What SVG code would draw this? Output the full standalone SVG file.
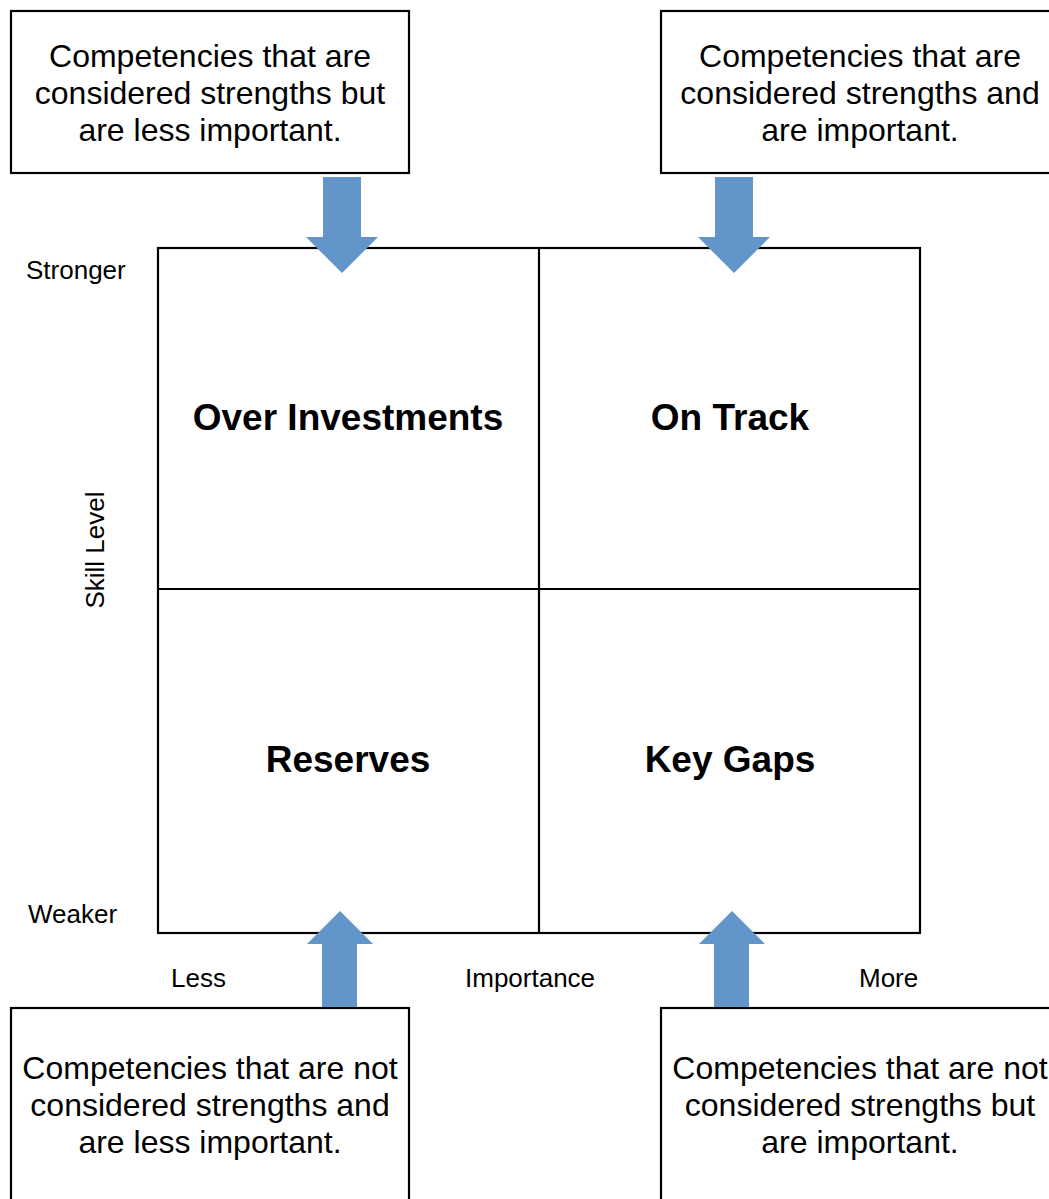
<svg xmlns="http://www.w3.org/2000/svg" width="1049" height="1199" viewBox="0 0 1049 1199">
  <defs>
    <style>
      .box { fill: #ffffff; stroke: #000000; stroke-width: 2.2; }
      .grid { fill: none; stroke: #000000; stroke-width: 2.2; }
      .note { font-family: "Liberation Sans", Arial, sans-serif; font-size: 32px; fill: #000000; text-anchor: middle; }
      .quad { font-family: "Liberation Sans", Arial, sans-serif; font-size: 37px; font-weight: bold; fill: #000000; text-anchor: middle; }
      .axis { font-family: "Liberation Sans", Arial, sans-serif; font-size: 26px; fill: #000000; }
      .arrow { fill: #6295c9; }
    </style>
    <!-- block arrows, drawn at the origin and placed with translate -->
    <path id="arrowDown" d="M323 177 H361 V237 H378 L342 273 L306 237 H323 Z"/>
    <path id="arrowUp" d="M340 911 L373 944 H357 V1007 H322 V944 H307 Z"/>
  </defs>

  <rect width="1049" height="1199" fill="#ffffff"/>

  <!-- 2x2 matrix -->
  <g id="matrix">
    <rect class="grid" x="158" y="248" width="762" height="685"/>
    <line class="grid" x1="539" y1="248" x2="539" y2="933"/>
    <line class="grid" x1="158" y1="589" x2="920" y2="589"/>
  </g>

  <g id="quadrant-over-investments">
    <text class="quad" x="348" y="430">Over Investments</text>
  </g>
  <g id="quadrant-on-track">
    <text class="quad" x="730" y="430">On Track</text>
  </g>
  <g id="quadrant-reserves">
    <text class="quad" x="348" y="772">Reserves</text>
  </g>
  <g id="quadrant-key-gaps">
    <text class="quad" x="730" y="772">Key Gaps</text>
  </g>

  <!-- axis labels -->
  <g id="axis-labels">
    <text class="axis" x="26" y="279">Stronger</text>
    <text class="axis" x="28" y="923">Weaker</text>
    <text class="axis" x="171" y="987">Less</text>
    <text class="axis" x="465" y="987">Importance</text>
    <text class="axis" x="859" y="987">More</text>
    <text class="axis" text-anchor="middle" transform="translate(104,550) rotate(-90)">Skill Level</text>
  </g>

  <!-- description boxes -->
  <g id="note-strong-less">
    <rect class="box" x="11" y="11" width="398" height="162"/>
    <text class="note" x="210" y="67">Competencies that are</text>
    <text class="note" x="210" y="104">considered strengths but</text>
    <text class="note" x="210" y="141">are less important.</text>
  </g>
  <g id="note-strong-important">
    <rect class="box" x="661" y="11" width="398" height="162"/>
    <text class="note" x="860" y="67">Competencies that are</text>
    <text class="note" x="860" y="104">considered strengths and</text>
    <text class="note" x="860" y="141">are important.</text>
  </g>
  <g id="note-weak-less">
    <rect class="box" x="11" y="1008" width="398" height="220"/>
    <text class="note" x="210" y="1079">Competencies that are not</text>
    <text class="note" x="210" y="1116">considered strengths and</text>
    <text class="note" x="210" y="1153">are less important.</text>
  </g>
  <g id="note-weak-important">
    <rect class="box" x="661" y="1008" width="398" height="220"/>
    <text class="note" x="860" y="1079">Competencies that are not</text>
    <text class="note" x="860" y="1116">considered strengths but</text>
    <text class="note" x="860" y="1153">are important.</text>
  </g>

  <!-- connectors: block arrows from notes to quadrants -->
  <g id="connectors">
    <use href="#arrowDown" class="arrow"/>
    <use href="#arrowDown" class="arrow" transform="translate(392,0)"/>
    <use href="#arrowUp" class="arrow"/>
    <use href="#arrowUp" class="arrow" transform="translate(392,0)"/>
  </g>
</svg>
